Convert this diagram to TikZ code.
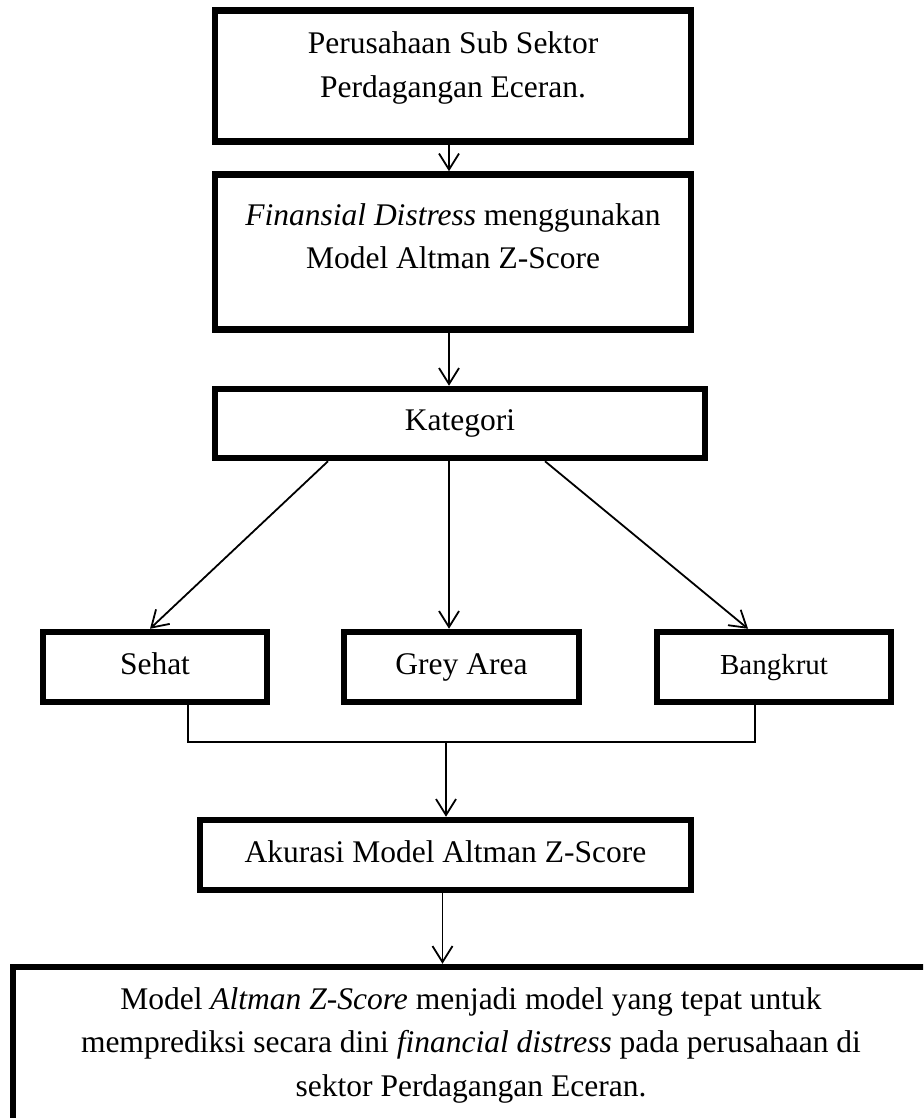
\documentclass[tikz,border=0pt]{standalone}
\usepackage{fontspec}
\setmainfont{Liberation Serif}
\usetikzlibrary{arrows.meta}
\begin{document}
\begin{tikzpicture}[x=1pt,y=-1pt,
  box/.style={draw=black,line width=6.5pt,fill=white,inner sep=0pt},
  txt/.style={font=\fontsize{31.5pt}{43.5pt}\selectfont,align=center,inner sep=0pt},
  one/.style={font=\fontsize{31.5pt}{43.5pt}\selectfont,text height=21.5pt,text depth=7.5pt},
  conn/.style={line width=1.8pt},
  arr/.style={conn,-{Straight Barb[length=16pt,width=20pt]}}]
\useasboundingbox (0,0) rectangle (923,1118);
\clip (0,0) rectangle (923,1118);
% boxes
\node[box,minimum width=476pt,minimum height=131pt] (b1) at (453,76) {};
\node[txt] (t1) at (453,68) {Perusahaan Sub Sektor\\Perdagangan Eceran.};
\node[box,minimum width=476pt,minimum height=155pt] (b2) at (453,252) {};
\node[txt] (t2) at (453,236) {\textit{Finansial Distress} menggunakan\\Model Altman Z-Score};
\node[box,one,minimum width=490pt,minimum height=69pt] (kat) at (460,423.5) {Kategori};
\node[box,one,minimum width=224pt,minimum height=70pt] (sehat) at (155,667) {Sehat};
\node[box,one,minimum width=235pt,minimum height=70pt] (grey) at (461.5,667) {Grey Area};
\node[box,minimum width=234pt,minimum height=70pt,font=\fontsize{29pt}{40pt}\selectfont,text height=20pt,text depth=6pt] (bang) at (774,667) {Bangkrut};
\node[box,one,minimum width=491pt,minimum height=70pt] (aku) at (445.5,855) {Akurasi Model Altman Z-Score};
\node[box,minimum width=916pt,minimum height=233pt] (fin) at (471,1083.5) {};
\node[txt] (fint) at (471,1045) {Model \textit{Altman Z-Score} menjadi model yang tepat untuk\\memprediksi secara dini \textit{financial distress} pada perusahaan di\\sektor Perdagangan Eceran.};
% connectors
\draw[arr] ([xshift=-4pt]b1.south) -- ([xshift=-4pt]b2.north);
\draw[arr] ([xshift=-4pt]b2.south) -- ([xshift=-11pt]kat.north);
\draw[arr] ([xshift=-132pt]kat.south) -- ([xshift=-5pt]sehat.north);
\draw[arr] ([xshift=-11pt]kat.south) -- ([xshift=-12.5pt]grey.north);
\draw[arr] ([xshift=85pt]kat.south) -- ([xshift=-26pt]bang.north);
\coordinate (hl) at (188,742);
\coordinate (hr) at (755,742);
\coordinate (j) at (446,742);
\draw[conn] ([xshift=33pt]sehat.south) -- (hl) -- (hr) -- ([xshift=-19pt]bang.south);
\draw[arr] (j) -- (j |- aku.north);
\draw[arr] ([xshift=-3pt]aku.south) -- ([xshift=-3pt]aku.south |- fin.north);
\end{tikzpicture}
\end{document}
